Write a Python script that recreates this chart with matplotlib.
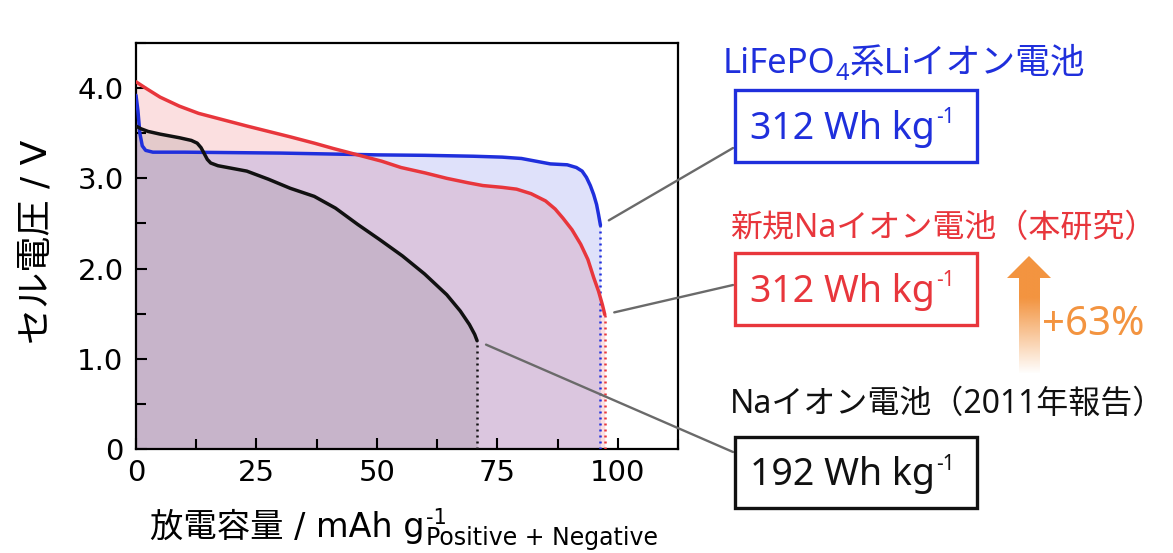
import numpy as np
import matplotlib
matplotlib.use("Agg")
import matplotlib.pyplot as plt
from matplotlib.patches import Rectangle, Polygon
from matplotlib.ticker import MultipleLocator

plt.rcParams['font.family'] = ['DejaVu Sans', 'Noto Sans CJK JP']

# discharge curves: capacity (mAh/g) and cell voltage (V)
lfp_cap = [0, 0.4, 0.8, 1.3, 2, 3.5, 10, 20, 30, 40, 50, 60, 70, 76, 80, 83, 86,
           89.5, 91.4, 92.6, 93.5, 94.3, 95.0, 95.6, 96.0, 96.4]
lfp_v = [3.92, 3.75, 3.50, 3.36, 3.31, 3.29, 3.29, 3.285, 3.28, 3.27, 3.26, 3.255,
         3.245, 3.235, 3.22, 3.19, 3.16, 3.15, 3.12, 3.08, 3.01, 2.92, 2.82, 2.71,
         2.60, 2.48]

na_new_cap = [0, 2, 5, 9, 13, 18, 23, 27.5, 32, 37, 41, 46, 51, 55, 60, 64.5, 69, 72,
              76, 79, 82, 85, 87, 88.6, 90.5, 92.3, 93.8, 95.0, 96.0, 96.8, 97.3]
na_new_v = [4.07, 4.00, 3.90, 3.80, 3.72, 3.65, 3.58, 3.52, 3.46, 3.39, 3.33, 3.26,
            3.19, 3.12, 3.06, 3.00, 2.95, 2.92, 2.90, 2.88, 2.83, 2.75, 2.66, 2.56,
            2.43, 2.27, 2.10, 1.90, 1.75, 1.60, 1.49]

na_old_cap = [0, 1, 2.5, 5, 9, 11.5, 12.7, 13.5, 14.1, 14.8, 15.5, 17, 20, 23, 27.5,
              32, 37, 41.4, 46, 50.6, 55.3, 59.9, 64.5, 67.3, 69.2, 70.3, 70.8]
na_old_v = [3.58, 3.55, 3.52, 3.49, 3.45, 3.42, 3.39, 3.34, 3.28, 3.21, 3.17, 3.14,
            3.11, 3.08, 2.99, 2.89, 2.80, 2.67, 2.49, 2.32, 2.14, 1.94, 1.71, 1.53,
            1.38, 1.27, 1.20]

cap_ticks = [0, 25, 50, 75, 100]
volt_ticks = [0, 1, 2, 3, 4]
volt_labels = ['0', '1.0', '2.0', '3.0', '4.0']

energy_labels = ['312 Wh kg', '312 Wh kg', '192 Wh kg']
increase_label = '+63%'

BLUE = '#1f2fdc'
RED = '#e8363c'
BLACK = '#111111'
ORANGE = '#f39440'
GRAY = '#6a6a6a'

W, H = 1173, 553
fig = plt.figure(figsize=(W / 100, H / 100), dpi=100)


def fx(px):
    return px / W


def fy(py):
    return 1 - py / H


ax = fig.add_axes([fx(136), fy(449), fx(678) - fx(136), fy(43) - fy(449)])

# shaded areas under each curve
ax.fill_between(na_new_cap, 0, na_new_v, color=RED, alpha=0.155, lw=0)
ax.fill_between(lfp_cap, 0, lfp_v, color=BLUE, alpha=0.14, lw=0)
ax.fill_between(na_old_cap, 0, na_old_v, color='black', alpha=0.09, lw=0)

curves = [(lfp_cap, lfp_v, BLUE), (na_new_cap, na_new_v, RED), (na_old_cap, na_old_v, BLACK)]
for cap, v, c in curves:
    ax.plot(cap, v, color=c, lw=2.5, solid_capstyle='round', zorder=3)
    ax.plot([cap[-1], cap[-1]], [0, v[-1]], color=c, lw=1.8,
            linestyle=(0, (0.8, 1.6)), zorder=3)

ax.set_xlim(0, 112.5)
ax.set_ylim(0, 4.5)
ax.set_xticks(cap_ticks)
ax.set_yticks(volt_ticks)
ax.set_yticklabels(volt_labels)
ax.xaxis.set_minor_locator(MultipleLocator(12.5))
ax.yaxis.set_minor_locator(MultipleLocator(0.5))
ax.tick_params(which='both', direction='in', width=1.5, top=False, right=False)
ax.tick_params(which='major', length=8)
ax.tick_params(which='minor', length=7)
ax.tick_params(axis='x', labelsize=21, pad=7)
ax.tick_params(axis='y', labelsize=21, pad=9)
for s in ax.spines.values():
    s.set_linewidth(1.6)

ax.set_ylabel('セル電圧 / V', fontsize=26)
ax.yaxis.set_label_coords(-0.152, 0.51)

# x label with superscript and subscript
xl = ax.annotate('放電容量 / mAh g', xy=(fx(150), fy(537)), xycoords='figure fraction',
                 fontsize=24, va='baseline', ha='left', annotation_clip=False)
ax.annotate('-1', xy=(1, fy(524)), xycoords=(xl, 'figure fraction'), xytext=(1, 0),
            textcoords='offset points', fontsize=15, va='baseline', ha='left',
            annotation_clip=False)
ax.annotate('Positive + Negative', xy=(1, fy(545)), xycoords=(xl, 'figure fraction'),
            xytext=(1, 0), textcoords='offset points',
            fontsize=17, va='baseline', ha='left', annotation_clip=False)

jp = ['Noto Sans', 'Noto Sans CJK JP']

# titles on the right
t1 = ax.annotate('LiFePO', xy=(fx(723), fy(73)), xycoords='figure fraction', color=BLUE,
                 fontsize=25, family=jp, va='baseline', ha='left', annotation_clip=False)
t2 = ax.annotate('4', xy=(1, fy(80)), xycoords=(t1, 'figure fraction'), color=BLUE,
                 fontsize=17, family=jp, va='baseline', ha='left', annotation_clip=False)
ax.annotate('系Liイオン電池', xy=(1, fy(73)), xycoords=(t2, 'figure fraction'), color=BLUE,
            fontsize=25, family=jp, va='baseline', ha='left', annotation_clip=False)
ax.annotate('新規Naイオン電池（本研究）', xy=(fx(730), fy(228)), xycoords='figure fraction',
            color=RED, fontsize=23, family=jp, va='center', ha='left', annotation_clip=False)
ax.annotate('Naイオン電池（2011年報告）', xy=(fx(730), fy(404)), xycoords='figure fraction',
            color=BLACK, fontsize=23, family=jp, va='center', ha='left', annotation_clip=False)

# energy density boxes
boxes = [(90, 162, BLUE), (253, 325, RED), (437, 508, BLACK)]
for (top, bot, c), lab in zip(boxes, energy_labels):
    fig.add_artist(Rectangle((fx(735), fy(bot)), fx(977) - fx(735), fy(top) - fy(bot),
                             fill=False, ec=c, lw=2.4, transform=fig.transFigure))
    base = (top + bot) / 2 + 13
    tb = ax.annotate(lab, xy=(fx(750), fy(base)), xycoords='figure fraction', color=c,
                     fontsize=27, family=jp, va='baseline', ha='left', annotation_clip=False)
    ax.annotate('-1', xy=(1, fy(base - 16)), xycoords=(tb, 'figure fraction'), color=c,
                xytext=(1, 0), textcoords='offset points',
                fontsize=15, family=jp, va='baseline', ha='left', annotation_clip=False)

# connector lines from curve ends to boxes
ends = [(lfp_cap[-1], lfp_v[-1], 148), (na_new_cap[-1], na_new_v[-1], 285),
        (na_old_cap[-1], na_old_v[-1], 452)]
for xe, ve, py in ends:
    ax.annotate('', xy=(xe, ve), xycoords='data', xytext=(fx(733), fy(py)),
                textcoords='figure fraction', annotation_clip=False,
                arrowprops=dict(arrowstyle='-', color=GRAY, lw=1.7, shrinkA=0, shrinkB=7))

# gradient arrow
aax = fig.add_axes([fx(1005), fy(374), fx(1053) - fx(1005), fy(254) - fy(374)])
aax.set_xlim(1005, 1053)
aax.set_ylim(374, 254)
aax.axis('off')
ys = np.linspace(254, 374, 200)
alpha = np.clip((374 - ys) / 76, 0, 1)
rgb = matplotlib.colors.to_rgb(ORANGE)
grad = np.zeros((200, 1, 4))
grad[:, 0, :3] = rgb
grad[:, 0, 3] = alpha
im = aax.imshow(grad, extent=(1005, 1053, 374, 254), aspect='auto', interpolation='bilinear')
arrow = Polygon([(1029, 256), (1051, 278), (1040, 278), (1040, 374), (1019, 374),
                 (1019, 278), (1007, 278)], closed=True, transform=aax.transData,
                facecolor='none', edgecolor='none')
aax.add_patch(arrow)
im.set_clip_path(arrow)

ax.annotate(increase_label, xy=(fx(1042), fy(325)), xycoords='figure fraction',
            color=ORANGE, fontsize=29, family=jp, va='center', ha='left',
            annotation_clip=False)

fig.savefig('out.png', dpi=100)
